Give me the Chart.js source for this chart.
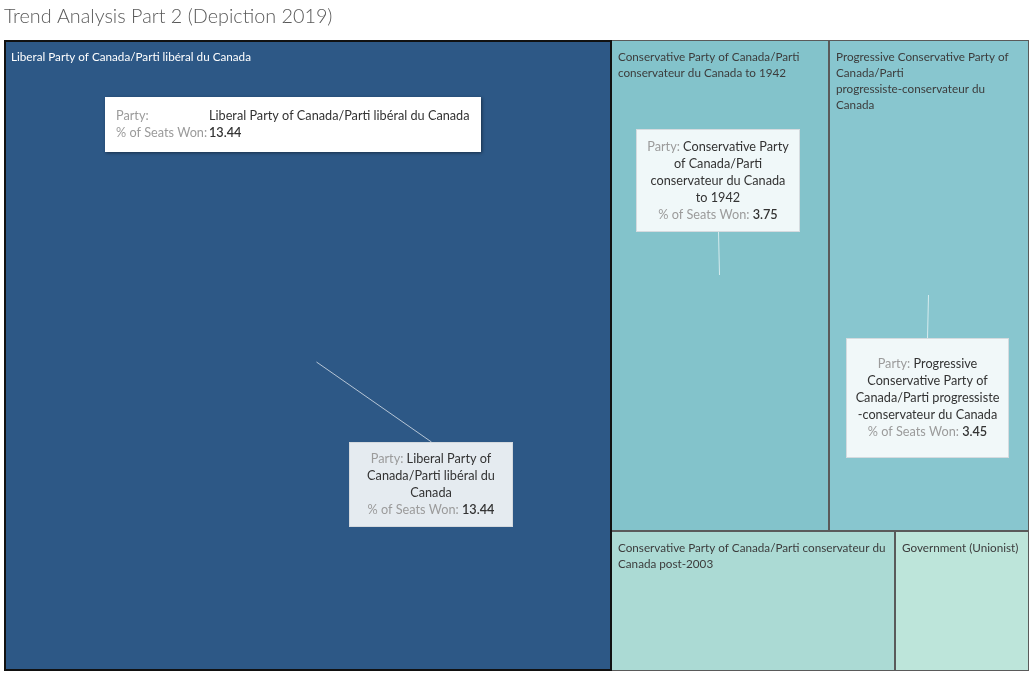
<!DOCTYPE html>
<html>
<head>
<meta charset="utf-8">
<title>Trend Analysis Part 2 (Depiction 2019)</title>
<script src="https://cdn.jsdelivr.net/npm/chart.js@4.4.0/dist/chart.umd.min.js"></script>
<style>
  html, body { margin: 0; padding: 0; background: #fff; }
  #wrap { width: 1034px; height: 680px; }
</style>
</head>
<body>
<div id="wrap"><canvas id="chart" width="1034" height="680"></canvas></div>
<script>
// Data
const parties = [
  'Liberal Party of Canada/Parti libéral du Canada',
  'Conservative Party of Canada/Parti conservateur du Canada to 1942',
  'Progressive Conservative Party of Canada/Parti progressiste-conservateur du Canada',
  'Conservative Party of Canada/Parti conservateur du Canada post-2003',
  'Government (Unionist)'
];
const seatsWon = [13.44, 3.75, 3.45, 1.40, 0.66];
// how many cells go in each strip of the treemap, in order
const groupSizes = [1, 2, 2];

const cellColors = ['#2d5886', '#83c3cb', '#88c6cf', '#abdad4', '#bde5da'];
const FONT = 'Lato, "Open Sans", sans-serif';
const GREY = '#9b9b9b';
const DARK = '#333333';
const LABEL_SIZE = 11.7;
const BOX_SIZE = 12.7;

// Slice the unit square into strips (works in a box of width `aspect`, height 1)
function layoutCells(values, groups, aspect) {
  let rx = 0, ry = 0, rw = aspect, rh = 1;
  let remaining = values.reduce((a, b) => a + b, 0);
  const rects = [];
  let i = 0;
  groups.forEach((n, g) => {
    const vals = values.slice(i, i + n);
    const sum = vals.reduce((a, b) => a + b, 0);
    const last = g === groups.length - 1;
    const alongX = last ? rw >= rh : rw < rh;
    if (alongX) {
      const th = rh * sum / remaining;
      let cx = rx;
      vals.forEach(v => {
        const w = rw * v / sum;
        rects.push({ x0: cx, x1: cx + w, y0: ry, y1: ry + th });
        cx += w;
      });
      ry += th; rh -= th;
    } else {
      const tw = rw * sum / remaining;
      let cy = ry;
      vals.forEach(v => {
        const h = rh * v / sum;
        rects.push({ x0: rx, x1: rx + tw, y0: cy, y1: cy + h });
        cy += h;
      });
      rx += tw; rw -= tw;
    }
    remaining -= sum;
    i += n;
  });
  return rects.map(r => ({ x0: r.x0 / aspect, x1: r.x1 / aspect, y0: r.y0, y1: r.y1 }));
}

function wrapWords(ctx, text, maxWidth) {
  const words = text.split(' ');
  const lines = [];
  let line = '';
  words.forEach(w => {
    const test = line ? line + ' ' + w : w;
    if (line && ctx.measureText(test).width > maxWidth) {
      lines.push(line);
      line = w;
    } else {
      line = test;
    }
  });
  if (line) lines.push(line);
  return lines;
}

// Annotation boxes (Tableau style), anchored inside a cell
const fmt = v => v.toFixed(2);
const notes = [
  {
    cell: 0, ax: 0.514, ay: 0.51, dx: 115, dy: 80, w: 164, h: 85,
    lines: [
      [['Party: ', GREY], ['Liberal Party of', DARK]],
      [['Canada/Parti libéral du', DARK]],
      [['Canada', DARK]],
      [['% of Seats Won: ', GREY], [fmt(seatsWon[0]), DARK, '600']]
    ]
  },
  {
    cell: 1, ax: 0.495, ay: 0.479, dx: -1, dy: -43, w: 164, h: 103,
    lines: [
      [['Party: ', GREY], ['Conservative Party', DARK]],
      [['of Canada/Parti', DARK]],
      [['conservateur du Canada', DARK]],
      [['to 1942', DARK]],
      [['% of Seats Won: ', GREY], [fmt(seatsWon[1]), DARK, '600']]
    ]
  },
  {
    cell: 2, ax: 0.497, ay: 0.52, dx: -1, dy: 43, w: 163, h: 120,
    lines: [
      [['Party: ', GREY], ['Progressive', DARK]],
      [['Conservative Party of', DARK]],
      [['Canada/Parti progressiste', DARK]],
      [['-conservateur du Canada', DARK]],
      [['% of Seats Won: ', GREY], [fmt(seatsWon[2]), DARK, '600']]
    ]
  }
];

// Hover-style tooltip pinned in the first cell
const tooltipBox = { cell: 0, ox: 101, oy: 57, w: 376, h: 55 };

const treemapPlugin = {
  id: 'treemap',
  beforeDatasetsDraw(chart) {
    const { ctx, chartArea, scales } = chart;
    const aspect = chartArea.width / chartArea.height;
    const rects = layoutCells(seatsWon, groupSizes, aspect).map(r => ({
      x0: Math.round(scales.x.getPixelForValue(r.x0)),
      x1: Math.round(scales.x.getPixelForValue(r.x1)),
      y0: Math.round(scales.y.getPixelForValue(r.y0)),
      y1: Math.round(scales.y.getPixelForValue(r.y1))
    }));
    chart.$cells = rects;

    ctx.save();
    // fills
    rects.forEach((r, i) => {
      ctx.fillStyle = cellColors[i];
      ctx.fillRect(r.x0, r.y0, r.x1 - r.x0, r.y1 - r.y0);
    });
    // borders
    ctx.lineWidth = 1;
    ctx.strokeStyle = '#5a5a5a';
    rects.forEach((r, i) => {
      if (i === 0) return;
      ctx.strokeRect(r.x0 + 0.5, r.y0 + 0.5, r.x1 - r.x0 - 1, r.y1 - r.y0 - 1);
    });
    ctx.lineWidth = 2;
    ctx.strokeStyle = '#111';
    const s = rects[0];
    ctx.strokeRect(s.x0 + 1, s.y0 + 1, s.x1 - s.x0 - 1, s.y1 - s.y0 - 2);

    // labels
    ctx.font = LABEL_SIZE + 'px ' + FONT;
    ctx.textBaseline = 'middle';
    ctx.textAlign = 'left';
    rects.forEach((r, i) => {
      ctx.fillStyle = i === 0 ? '#ffffff' : '#3c3c3c';
      const lines = wrapWords(ctx, parties[i], r.x1 - r.x0 - 12);
      lines.forEach((ln, k) => ctx.fillText(ln, r.x0 + 7, r.y0 + 17 + k * 16));
    });
    ctx.restore();
  },
  afterDatasetsDraw(chart) {
    const { ctx } = chart;
    const rects = chart.$cells;
    if (!rects) return;
    ctx.save();

    // annotations
    notes.forEach(n => {
      const r = rects[n.cell];
      const axp = Math.round(r.x0 + n.ax * (r.x1 - r.x0));
      const ayp = Math.round(r.y0 + n.ay * (r.y1 - r.y0));
      const cx = axp + n.dx;
      const ey = ayp + n.dy;
      ctx.strokeStyle = 'rgba(255,255,255,0.65)';
      ctx.lineWidth = 1;
      ctx.beginPath();
      ctx.moveTo(axp + 0.5, ayp);
      ctx.lineTo(cx + 0.5, ey);
      ctx.stroke();

      const bx = Math.round(cx - n.w / 2);
      const by = n.dy > 0 ? ey : ey - n.h;
      ctx.fillStyle = 'rgba(255,255,255,0.88)';
      ctx.fillRect(bx, by, n.w, n.h);
      ctx.strokeStyle = 'rgba(210,215,220,0.9)';
      ctx.strokeRect(bx + 0.5, by + 0.5, n.w - 1, n.h - 1);

      const lh = 17;
      const top = by + n.h / 2 - (n.lines.length - 1) * lh / 2;
      ctx.textBaseline = 'middle';
      ctx.textAlign = 'left';
      n.lines.forEach((segs, k) => {
        let total = 0;
        segs.forEach(sg => {
          ctx.font = (sg[2] || '400') + ' ' + BOX_SIZE + 'px ' + FONT;
          total += ctx.measureText(sg[0]).width;
        });
        let x = bx + n.w / 2 - total / 2;
        segs.forEach(sg => {
          ctx.font = (sg[2] || '400') + ' ' + BOX_SIZE + 'px ' + FONT;
          ctx.fillStyle = sg[1];
          ctx.fillText(sg[0], x, top + k * lh);
          x += ctx.measureText(sg[0]).width;
        });
      });
    });

    // pinned tooltip
    const r = rects[tooltipBox.cell];
    const tx = r.x0 + tooltipBox.ox;
    const ty = r.y0 + tooltipBox.oy;
    ctx.save();
    ctx.shadowColor = 'rgba(0,0,0,0.45)';
    ctx.shadowBlur = 3;
    ctx.shadowOffsetX = 1;
    ctx.shadowOffsetY = 1;
    ctx.fillStyle = '#ffffff';
    ctx.fillRect(tx, ty, tooltipBox.w, tooltipBox.h);
    ctx.restore();
    ctx.textBaseline = 'middle';
    ctx.font = BOX_SIZE + 'px ' + FONT;
    ctx.fillStyle = GREY;
    ctx.fillText('Party:', tx + 11, ty + 19);
    ctx.fillText('% of Seats Won:', tx + 11, ty + 36);
    ctx.fillStyle = DARK;
    ctx.fillText(parties[0], tx + 104, ty + 19);
    ctx.font = '600 ' + BOX_SIZE + 'px ' + FONT;
    ctx.fillText(fmt(seatsWon[0]), tx + 104, ty + 36);

    ctx.restore();
  }
};

new Chart(document.getElementById('chart'), {
  type: 'scatter',
  data: {
    datasets: [{ label: 'Parties', data: [] }]
  },
  options: {
    responsive: false,
    animation: false,
    devicePixelRatio: 1,
    layout: { padding: { left: 4, right: 5, top: 0, bottom: 9 } },
    plugins: {
      legend: { display: false },
      tooltip: { enabled: false },
      title: {
        display: true,
        text: 'Trend Analysis Part 2 (Depiction 2019)',
        align: 'start',
        color: '#595959',
        font: { family: FONT, size: 19.8, weight: '300' },
        padding: { top: 5, bottom: 11.2 }
      }
    },
    scales: {
      x: { type: 'linear', min: 0, max: 1, display: false },
      y: { type: 'linear', min: 0, max: 1, reverse: true, display: false }
    }
  },
  plugins: [treemapPlugin]
});
</script>
</body>
</html>
